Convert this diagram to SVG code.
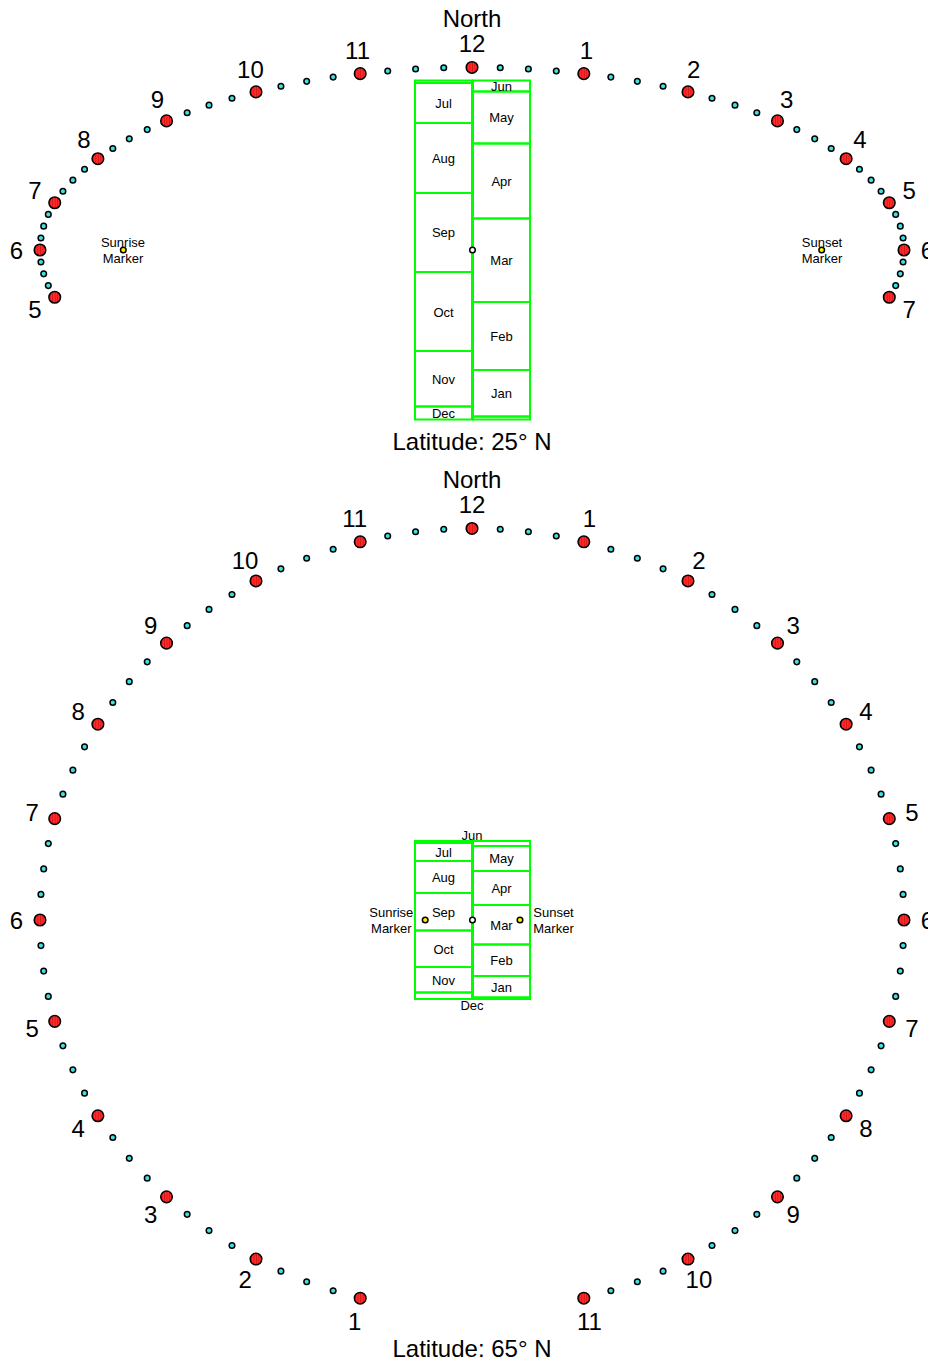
<svg xmlns="http://www.w3.org/2000/svg" xmlns:xlink="http://www.w3.org/1999/xlink" width="928" height="1359" viewBox="0 0 928 1359">
  <style>
    text { font-family: "Liberation Sans", Arial, sans-serif; fill: #000; text-anchor: middle; dominant-baseline: central; }
    .big { font-size: 24px; }
    .sm { font-size: 13px; }
    .box { fill: none; stroke: #00ff00; stroke-width: 2; }
  </style>
  <defs>
    <!-- red hour marker with fine vertical hatching -->
    <pattern id="hatch" patternUnits="userSpaceOnUse" width="2.5" height="10">
      <rect width="2.5" height="10" fill="#ff2b2b"/>
      <rect width="0.7" height="10" fill="#cc1010"/>
    </pattern>
    <circle id="h" r="5.8" fill="url(#hatch)" stroke="#000" stroke-width="1.5"/>
    <!-- quarter-hour dot -->
    <circle id="q" r="2.8" fill="#3fe0e6" stroke="#000" stroke-width="1.5"/>
    <!-- sunrise / sunset marker -->
    <circle id="s" r="2.8" fill="#ffee00" stroke="#000" stroke-width="1.5"/>
    <!-- gnomon centre -->
    <circle id="c" r="2.8" fill="#fff" stroke="#000" stroke-width="1.5"/>
  </defs>
  <rect width="928" height="1359" fill="#fff"/>

  <!-- ===================== Dial for latitude 25 N ===================== -->
  <g id="dial-25">
    <text class="big" x="472" y="18">North</text>
    <text class="big" x="472" y="441">Latitude: 25° N</text>

    <g id="date-scale-25">
      <rect class="box" x="415" y="80.5" width="57" height="2.5"/>
      <rect class="box" x="415" y="83" width="57" height="40"/>
      <rect class="box" x="415" y="123" width="57" height="70"/>
      <rect class="box" x="415" y="193" width="57" height="79"/>
      <rect class="box" x="415" y="272" width="57" height="79"/>
      <rect class="box" x="415" y="351" width="57" height="55.5"/>
      <rect class="box" x="415" y="406.5" width="57" height="13"/>
      <rect class="box" x="473" y="80.5" width="57" height="11"/>
      <rect class="box" x="473" y="91.5" width="57" height="52"/>
      <rect class="box" x="473" y="143.5" width="57" height="75"/>
      <rect class="box" x="473" y="218.5" width="57" height="83.5"/>
      <rect class="box" x="473" y="302" width="57" height="68"/>
      <rect class="box" x="473" y="370" width="57" height="46.5"/>
      <rect class="box" x="473" y="416.5" width="57" height="3"/>
      <text class="sm" x="443.5" y="103">Jul</text>
      <text class="sm" x="443.5" y="158">Aug</text>
      <text class="sm" x="443.5" y="232">Sep</text>
      <text class="sm" x="443.5" y="312">Oct</text>
      <text class="sm" x="443.5" y="379">Nov</text>
      <text class="sm" x="443.5" y="413">Dec</text>
      <text class="sm" x="501.5" y="86">Jun</text>
      <text class="sm" x="501.5" y="117">May</text>
      <text class="sm" x="501.5" y="181">Apr</text>
      <text class="sm" x="501.5" y="260">Mar</text>
      <text class="sm" x="501.5" y="336">Feb</text>
      <text class="sm" x="501.5" y="393">Jan</text>
      <use href="#c" x="472.5" y="250"/>
    </g>

    <g id="sun-markers-25">
      <text class="sm" x="123" y="242">Sunrise</text>
      <text class="sm" x="123" y="258">Marker</text>
      <use href="#s" x="123.3" y="250"/>
      <text class="sm" x="822" y="242">Sunset</text>
      <text class="sm" x="822" y="258">Marker</text>
      <use href="#s" x="821.7" y="250"/>
    </g>

    <g id="quarters-25">
      <use href="#q" x="500.25" y="67.82"/><use href="#q" x="528.39" y="68.99"/><use href="#q" x="556.28" y="70.94"/>
      <use href="#q" x="610.86" y="77.12"/><use href="#q" x="637.32" y="81.33"/><use href="#q" x="663.07" y="86.26"/>
      <use href="#q" x="712.01" y="98.20"/><use href="#q" x="734.99" y="105.16"/><use href="#q" x="756.84" y="112.74"/>
      <use href="#q" x="796.80" y="129.62"/><use href="#q" x="814.73" y="138.86"/><use href="#q" x="831.20" y="148.57"/>
      <use href="#q" x="859.45" y="169.25"/><use href="#q" x="871.12" y="180.13"/><use href="#q" x="881.07" y="191.32"/>
      <use href="#q" x="895.70" y="214.38"/><use href="#q" x="900.30" y="226.17"/><use href="#q" x="903.08" y="238.06"/>
      <use href="#q" x="903.08" y="261.94"/><use href="#q" x="900.30" y="273.83"/><use href="#q" x="895.70" y="285.62"/>
      <use href="#q" x="443.75" y="67.82"/><use href="#q" x="415.61" y="68.99"/><use href="#q" x="387.72" y="70.94"/>
      <use href="#q" x="333.14" y="77.12"/><use href="#q" x="306.68" y="81.33"/><use href="#q" x="280.93" y="86.26"/>
      <use href="#q" x="231.99" y="98.20"/><use href="#q" x="209.02" y="105.16"/><use href="#q" x="187.16" y="112.74"/>
      <use href="#q" x="147.21" y="129.62"/><use href="#q" x="129.27" y="138.86"/><use href="#q" x="112.81" y="148.57"/>
      <use href="#q" x="84.55" y="169.25"/><use href="#q" x="72.88" y="180.13"/><use href="#q" x="62.93" y="191.32"/>
      <use href="#q" x="48.30" y="214.38"/><use href="#q" x="43.70" y="226.17"/><use href="#q" x="40.93" y="238.06"/>
      <use href="#q" x="40.93" y="261.94"/><use href="#q" x="43.70" y="273.83"/><use href="#q" x="48.30" y="285.62"/>
    </g>

    <g id="hours-25">
      <use href="#h" x="472" y="67.43"/>
      <use href="#h" x="583.81" y="73.65"/><use href="#h" x="360.19" y="73.65"/>
      <use href="#h" x="688" y="91.89"/><use href="#h" x="256" y="91.89"/>
      <use href="#h" x="777.47" y="120.90"/><use href="#h" x="166.53" y="120.90"/>
      <use href="#h" x="846.12" y="158.71"/><use href="#h" x="97.88" y="158.71"/>
      <use href="#h" x="889.28" y="202.75"/><use href="#h" x="54.72" y="202.75"/>
      <use href="#h" x="904" y="250"/><use href="#h" x="40" y="250"/>
      <use href="#h" x="889.28" y="297.25"/><use href="#h" x="54.72" y="297.25"/>
    </g>

    <g id="hour-labels-25">
      <text class="big" x="472" y="43.9">12</text>
      <text class="big" x="586.45" y="50.3">1</text>
      <text class="big" x="357.55" y="50.3">11</text>
      <text class="big" x="693.57" y="69.06">2</text>
      <text class="big" x="250.43" y="69.06">10</text>
      <text class="big" x="786.62" y="99.26">3</text>
      <text class="big" x="157.38" y="99.26">9</text>
      <text class="big" x="860" y="139.75">4</text>
      <text class="big" x="84" y="139.75">8</text>
      <text class="big" x="909.13" y="190.16">5</text>
      <text class="big" x="34.87" y="190.16">7</text>
      <text class="big" x="927.5" y="250">6</text>
      <text class="big" x="16.5" y="250">6</text>
      <text class="big" x="909.13" y="309.84">7</text>
      <text class="big" x="34.87" y="309.84">5</text>
    </g>
  </g>

  <!-- ===================== Dial for latitude 65 N ===================== -->
  <g id="dial-65">
    <text class="big" x="472" y="479">North</text>
    <text class="big" x="472" y="1348">Latitude: 65° N</text>

    <g id="date-scale-65">
      <rect class="box" x="415" y="841" width="57" height="2"/>
      <rect class="box" x="415" y="843" width="57" height="18"/>
      <rect class="box" x="415" y="861" width="57" height="32"/>
      <rect class="box" x="415" y="893" width="57" height="37.5"/>
      <rect class="box" x="415" y="930.5" width="57" height="36.5"/>
      <rect class="box" x="415" y="967" width="57" height="25.5"/>
      <rect class="box" x="415" y="992.5" width="57" height="6.5"/>
      <rect class="box" x="473" y="841" width="57" height="5"/>
      <rect class="box" x="473" y="846" width="57" height="25"/>
      <rect class="box" x="473" y="871" width="57" height="34"/>
      <rect class="box" x="473" y="905" width="57" height="39.5"/>
      <rect class="box" x="473" y="944.5" width="57" height="31.5"/>
      <rect class="box" x="473" y="976" width="57" height="21.5"/>
      <rect class="box" x="473" y="997.5" width="57" height="1.5"/>
      <text class="sm" x="443.5" y="852">Jul</text>
      <text class="sm" x="443.5" y="877">Aug</text>
      <text class="sm" x="443.5" y="912">Sep</text>
      <text class="sm" x="443.5" y="949">Oct</text>
      <text class="sm" x="443.5" y="980">Nov</text>
      <text class="sm" x="472" y="1005">Dec</text>
      <text class="sm" x="472" y="835">Jun</text>
      <text class="sm" x="501.5" y="858">May</text>
      <text class="sm" x="501.5" y="888">Apr</text>
      <text class="sm" x="501.5" y="925">Mar</text>
      <text class="sm" x="501.5" y="960">Feb</text>
      <text class="sm" x="501.5" y="987">Jan</text>
      <use href="#c" x="472.5" y="920"/>
    </g>

    <g id="sun-markers-65">
      <text class="sm" x="391.3" y="912.5">Sunrise</text>
      <text class="sm" x="391.3" y="928.5">Marker</text>
      <use href="#s" x="425.2" y="920"/>
      <text class="sm" x="553.5" y="912.5">Sunset</text>
      <text class="sm" x="553.5" y="928.5">Marker</text>
      <use href="#s" x="520" y="920"/>
    </g>

    <g id="quarters-65">
      <use href="#q" x="500.25" y="529.31"/><use href="#q" x="528.39" y="531.82"/><use href="#q" x="556.28" y="536.00"/>
      <use href="#q" x="610.86" y="549.25"/><use href="#q" x="637.32" y="558.28"/><use href="#q" x="663.07" y="568.85"/>
      <use href="#q" x="712.01" y="594.46"/><use href="#q" x="734.99" y="609.38"/><use href="#q" x="756.84" y="625.64"/>
      <use href="#q" x="796.80" y="661.85"/><use href="#q" x="814.73" y="681.66"/><use href="#q" x="831.20" y="702.48"/>
      <use href="#q" x="859.45" y="746.83"/><use href="#q" x="871.12" y="770.17"/><use href="#q" x="881.07" y="794.15"/>
      <use href="#q" x="895.70" y="843.62"/><use href="#q" x="900.30" y="868.90"/><use href="#q" x="903.08" y="894.39"/>
      <use href="#q" x="903.08" y="945.61"/><use href="#q" x="900.30" y="971.10"/><use href="#q" x="895.70" y="996.38"/>
      <use href="#q" x="881.07" y="1045.85"/><use href="#q" x="871.12" y="1069.83"/><use href="#q" x="859.45" y="1093.17"/>
      <use href="#q" x="831.20" y="1137.52"/><use href="#q" x="814.73" y="1158.35"/><use href="#q" x="796.80" y="1178.15"/>
      <use href="#q" x="756.84" y="1214.36"/><use href="#q" x="734.99" y="1230.62"/><use href="#q" x="712.01" y="1245.54"/>
      <use href="#q" x="663.07" y="1271.15"/><use href="#q" x="637.32" y="1281.72"/><use href="#q" x="610.86" y="1290.75"/>
      <use href="#q" x="443.75" y="529.31"/><use href="#q" x="415.61" y="531.82"/><use href="#q" x="387.72" y="536.00"/>
      <use href="#q" x="333.14" y="549.25"/><use href="#q" x="306.68" y="558.28"/><use href="#q" x="280.93" y="568.85"/>
      <use href="#q" x="231.99" y="594.46"/><use href="#q" x="209.02" y="609.38"/><use href="#q" x="187.16" y="625.64"/>
      <use href="#q" x="147.21" y="661.85"/><use href="#q" x="129.27" y="681.66"/><use href="#q" x="112.81" y="702.48"/>
      <use href="#q" x="84.55" y="746.83"/><use href="#q" x="72.88" y="770.17"/><use href="#q" x="62.93" y="794.15"/>
      <use href="#q" x="48.30" y="843.62"/><use href="#q" x="43.70" y="868.90"/><use href="#q" x="40.93" y="894.39"/>
      <use href="#q" x="40.93" y="945.61"/><use href="#q" x="43.70" y="971.10"/><use href="#q" x="48.30" y="996.38"/>
      <use href="#q" x="62.93" y="1045.85"/><use href="#q" x="72.88" y="1069.83"/><use href="#q" x="84.55" y="1093.17"/>
      <use href="#q" x="112.81" y="1137.52"/><use href="#q" x="129.27" y="1158.35"/><use href="#q" x="147.21" y="1178.15"/>
      <use href="#q" x="187.16" y="1214.36"/><use href="#q" x="209.02" y="1230.62"/><use href="#q" x="231.99" y="1245.54"/>
      <use href="#q" x="280.93" y="1271.15"/><use href="#q" x="306.68" y="1281.72"/><use href="#q" x="333.14" y="1290.75"/>
    </g>

    <g id="hours-65">
      <use href="#h" x="472" y="528.48"/>
      <use href="#h" x="583.81" y="541.82"/><use href="#h" x="360.19" y="541.82"/>
      <use href="#h" x="688" y="580.93"/><use href="#h" x="256" y="580.93"/>
      <use href="#h" x="777.47" y="643.15"/><use href="#h" x="166.53" y="643.15"/>
      <use href="#h" x="846.12" y="724.24"/><use href="#h" x="97.88" y="724.24"/>
      <use href="#h" x="889.28" y="818.67"/><use href="#h" x="54.72" y="818.67"/>
      <use href="#h" x="904" y="920"/><use href="#h" x="40" y="920"/>
      <use href="#h" x="889.28" y="1021.33"/><use href="#h" x="54.72" y="1021.33"/>
      <use href="#h" x="846.12" y="1115.76"/><use href="#h" x="97.88" y="1115.76"/>
      <use href="#h" x="777.47" y="1196.85"/><use href="#h" x="166.53" y="1196.85"/>
      <use href="#h" x="688" y="1259.07"/><use href="#h" x="256" y="1259.07"/>
      <use href="#h" x="583.81" y="1298.18"/><use href="#h" x="360.19" y="1298.18"/>
    </g>

    <g id="hour-labels-65">
      <text class="big" x="472" y="504.98">12</text>
      <text class="big" x="589.36" y="518.98">1</text>
      <text class="big" x="354.64" y="518.98">11</text>
      <text class="big" x="698.9" y="560.11">2</text>
      <text class="big" x="245.1" y="560.11">10</text>
      <text class="big" x="793.25" y="625.74">3</text>
      <text class="big" x="150.75" y="625.74">9</text>
      <text class="big" x="865.94" y="711.61">4</text>
      <text class="big" x="78.06" y="711.61">8</text>
      <text class="big" x="911.82" y="812">5</text>
      <text class="big" x="32.18" y="812">7</text>
      <text class="big" x="927.5" y="920">6</text>
      <text class="big" x="16.5" y="920">6</text>
      <text class="big" x="911.82" y="1028">7</text>
      <text class="big" x="32.18" y="1028">5</text>
      <text class="big" x="865.94" y="1128.39">8</text>
      <text class="big" x="78.06" y="1128.39">4</text>
      <text class="big" x="793.25" y="1214.26">9</text>
      <text class="big" x="150.75" y="1214.26">3</text>
      <text class="big" x="698.9" y="1279.89">10</text>
      <text class="big" x="245.1" y="1279.89">2</text>
      <text class="big" x="589.36" y="1321.02">11</text>
      <text class="big" x="354.64" y="1321.02">1</text>
    </g>
  </g>
</svg>
